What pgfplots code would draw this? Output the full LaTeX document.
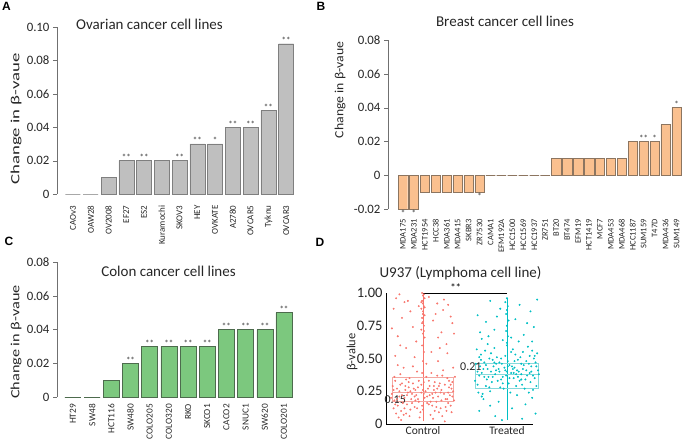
\documentclass[border=0pt]{standalone}
\usepackage{fontspec}
\setmainfont{Carlito}
\newfontfamily\hd{Liberation Sans}
\usepackage{graphicx}
\usepackage{pgfplots}
\usepackage{pgfplotstable}
\pgfplotsset{compat=1.18}
\definecolor{grayfill}{HTML}{BFBFBF}
\definecolor{grayedge}{HTML}{7F7F7F}
\definecolor{orfill}{HTML}{FAC08F}
\definecolor{oredge}{HTML}{8C7560}
\definecolor{grfill}{HTML}{7CC87E}
\definecolor{gredge}{HTML}{4D6B4D}
\definecolor{colCtrl}{HTML}{F8766D}
\definecolor{colTrt}{HTML}{00BFC4}
\definecolor{colCtrlBox}{HTML}{F3A9A3}
\definecolor{colTrtBox}{HTML}{86D9DB}
\definecolor{axgray}{HTML}{707070}

\pgfplotstableread{
dx y
-0.35 0.12
-0.28 0.21
-0.20 0.08
-0.12 0.31
-0.05 0.17
0.03 0.25
0.11 0.14
0.19 0.29
0.27 0.19
0.34 0.09
-0.31 0.27
-0.24 0.16
-0.16 0.35
-0.08 0.22
0.00 0.11
0.07 0.33
0.15 0.24
0.23 0.06
0.31 0.28
0.37 0.18
-0.37 0.23
-0.29 0.05
-0.21 0.26
-0.14 0.19
-0.06 0.28
0.02 0.20
0.09 0.07
0.17 0.37
0.25 0.23
0.33 0.14
-0.33 0.33
-0.26 0.10
-0.18 0.24
-0.10 0.13
-0.02 0.30
0.05 0.16
0.13 0.26
0.21 0.12
0.29 0.35
0.36 0.25
-0.34 0.18
-0.27 0.38
-0.19 0.15
-0.11 0.27
-0.03 0.09
0.04 0.36
0.12 0.20
0.20 0.31
0.28 0.10
0.35 0.32
-0.36 0.29
-0.30 0.14
-0.22 0.20
-0.15 0.11
-0.07 0.40
0.01 0.23
0.08 0.29
0.16 0.17
0.24 0.41
0.32 0.22
-0.32 0.08
-0.25 0.31
-0.17 0.28
-0.09 0.18
-0.01 0.14
0.06 0.27
0.14 0.10
0.22 0.26
0.30 0.16
0.38 0.36
-0.38 0.20
-0.23 0.43
-0.13 0.23
-0.04 0.05
0.10 0.39
0.18 0.21
0.26 0.30
-0.28 0.25
-0.20 0.34
0.00 0.26
0.14 0.32
0.30 0.24
-0.10 0.21
0.22 0.18
-0.34 0.36
0.34 0.27
-0.06 0.19
0.08 0.22
-0.16 0.06
0.12 0.04
-0.26 0.03
0.26 0.02
-0.12 0.44
0.04 0.46
0.18 0.48
-0.30 0.45
0.36 0.43
-0.22 0.12
0.16 0.13
-0.02 0.24
-0.33 0.52
-0.20 0.58
0.10 0.55
0.28 0.61
-0.30 0.67
0.22 0.70
-0.12 0.74
0.35 0.77
-0.25 0.81
0.15 0.84
-0.35 0.88
0.30 0.91
-0.18 0.94
0.07 0.97
-0.28 0.99
0.25 0.95
-0.08 0.63
0.18 0.66
-0.37 0.73
0.33 0.82
-0.15 0.86
0.20 0.58
-0.27 0.60
0.12 0.79
-0.22 0.93
0.29 0.54
-0.05 0.90
0.37 0.69
-0.32 0.96
0.17 0.92
-0.10 0.51
0.24 0.87
0.00 0.48
0.01 0.55
-0.01 0.60
0.02 0.66
0.00 0.69
-0.02 0.72
0.01 0.75
0.00 0.78
-0.01 0.81
0.02 0.83
0.00 0.86
-0.02 0.88
0.01 0.90
0.00 0.92
-0.01 0.94
0.02 0.96
0.00 0.98
-0.01 1.00
0.01 0.71
-0.01 0.77
0.00 0.84
0.02 0.89
-0.02 0.93
0.01 0.99
-0.09 0.26
0.19 0.09
-0.31 0.19
0.27 0.13
-0.17 0.32
0.09 0.17
-0.23 0.07
0.31 0.33
-0.01 0.39
0.23 0.37
-0.35 0.26
0.13 0.29
-0.07 0.12
0.05 0.21
-0.27 0.30
0.35 0.21
-0.13 0.16
0.21 0.24
-0.19 0.22
0.01 0.32
-0.33 0.15
0.29 0.19
-0.15 0.25
0.11 0.23
-0.25 0.22
0.07 0.15
-0.05 0.33
0.33 0.30
-0.21 0.29
0.17 0.27
}\ctrlpts

\pgfplotstableread{
dx y
-0.35 0.30
-0.28 0.42
-0.20 0.25
-0.12 0.51
-0.05 0.36
0.03 0.45
0.11 0.29
0.19 0.55
0.27 0.39
0.34 0.47
-0.31 0.53
-0.24 0.34
-0.16 0.44
-0.08 0.28
0.00 0.40
0.07 0.57
0.15 0.33
0.23 0.48
0.31 0.26
0.37 0.41
-0.37 0.46
-0.29 0.23
-0.21 0.50
-0.14 0.38
-0.06 0.46
0.02 0.31
0.09 0.43
0.17 0.38
0.25 0.59
0.33 0.35
-0.33 0.37
-0.26 0.56
-0.18 0.32
-0.10 0.42
-0.02 0.52
0.05 0.39
0.13 0.49
0.21 0.27
0.29 0.44
0.36 0.54
-0.34 0.24
-0.27 0.47
-0.19 0.40
-0.11 0.33
-0.03 0.43
0.04 0.24
0.12 0.41
0.20 0.45
0.28 0.32
0.35 0.29
-0.36 0.57
-0.30 0.39
-0.22 0.36
-0.15 0.58
-0.07 0.34
0.01 0.48
0.08 0.35
0.16 0.51
0.24 0.37
0.32 0.50
-0.32 0.44
-0.25 0.29
-0.17 0.49
-0.09 0.40
-0.01 0.37
0.06 0.44
0.14 0.40
0.22 0.34
0.30 0.56
0.38 0.38
-0.23 0.61
-0.13 0.46
-0.04 0.27
0.10 0.53
0.18 0.30
0.26 0.46
-0.38 0.33
0.00 0.60
0.14 0.63
-0.28 0.19
0.30 0.20
-0.10 0.17
0.22 0.15
-0.20 0.14
0.06 0.12
-0.33 0.10
0.34 0.08
-0.14 0.06
0.18 0.04
-0.06 0.03
0.12 0.22
-0.30 0.21
0.26 0.24
-0.02 0.41
0.08 0.39
-0.30 0.65
0.20 0.68
-0.15 0.72
0.32 0.74
-0.25 0.78
0.10 0.80
-0.35 0.83
0.28 0.86
-0.08 0.88
0.15 0.91
-0.20 0.94
0.36 0.95
-0.32 0.70
0.05 0.66
0.24 0.77
-0.12 0.82
-0.05 0.64
0.30 0.63
-0.22 0.67
0.00 0.62
0.01 0.67
-0.01 0.71
0.00 0.75
0.02 0.79
-0.01 0.84
0.00 0.87
0.01 0.90
-0.02 0.93
0.00 0.96
-0.09 0.47
0.19 0.42
-0.31 0.49
0.27 0.52
-0.17 0.36
0.09 0.48
-0.23 0.42
0.31 0.37
0.03 0.35
0.23 0.41
-0.35 0.40
0.13 0.36
-0.07 0.50
0.05 0.55
-0.27 0.36
0.35 0.44
-0.13 0.41
0.17 0.46
-0.19 0.54
0.01 0.44
-0.33 0.51
0.29 0.40
-0.15 0.47
0.11 0.38
-0.25 0.45
0.07 0.42
-0.05 0.31
0.33 0.52
-0.21 0.28
0.17 0.34
}\trtpts

\pgfplotsset{
  barax/.style={
    scale only axis, anchor=south west, clip=false,
    axis y line*=left, axis x line*=bottom,
    axis line style={-},
    x axis line style={draw=none},
    y axis line style={axgray},
    scaled y ticks=false,
    tick align=outside,
    major tick length=4pt,
    ytick style={axgray},
    xtick style={draw=none},
    yticklabel={\pgfmathprintnumber[fixed,fixed zerofill,precision=2,assume math mode=true]{\tick}},
    extra y ticks={0}, extra y tick labels={0},
    extra y tick style={yticklabel style={font=\fontsize{12.8}{14}\selectfont, text=black!85}},
    yticklabel style={font=\fontsize{12.8}{14}\selectfont, text=black!85},
    xticklabel style={rotate=90, anchor=east, text=black!85},
  },
  stars/.style={draw=none, mark=none, nodes near coords, point meta=explicit symbolic,
    every node near coord/.append style={font=\fontsize{9}{9}\selectfont, inner sep=0pt, anchor=south, text=black!80}},
}

\begin{document}
\begin{tikzpicture}
\path[use as bounding box] (0pt,0pt) rectangle (684pt,-440pt);

% ---------- A ----------
\begin{axis}[barax, at={(57pt,-194pt)}, width=238pt, height=167pt,
  xmin=-0.9, xmax=12.5, ymin=0, ymax=0.10,
  ytick={0.02,0.04,0.06,0.08,0.1},
  xtick={0,...,12},
  xticklabels={CAOv3,OAW28,OV2008,EF27,ES2,Kuramochi,SKOV3,HEY,OVKATE,A2780,OVCAR5,Tyknu,OVCAR3},
  xticklabel style={font=\fontsize{9}{10}\selectfont, xshift=-4pt}]
\addplot[ybar, bar width=15pt, fill=grayfill, draw=grayedge] coordinates {
(0,0) (1,0) (2,0.01) (3,0.02) (4,0.02) (5,0.02) (6,0.02) (7,0.03) (8,0.03) (9,0.04) (10,0.04) (11,0.05) (12,0.09)};
\addplot[stars] coordinates {
(3,0.02)[**] (4,0.02)[**] (6,0.02)[**] (7,0.03)[**] (8,0.03)[*] (9,0.04)[**] (10,0.04)[**] (11,0.05)[**] (12,0.09)[**]};
\end{axis}

% ---------- B ----------
\begin{axis}[barax, at={(388pt,-209pt)}, width=294pt, height=169pt,
  xmin=-1.37, xmax=25.5, ymin=-0.02, ymax=0.08,
  ytick={-0.02,0.02,0.04,0.06,0.08},
  xtick={0,...,25},
  xticklabels={MDA175,MDA231,HCT1954,HCC38,MDA361,MDA415,SKBR3,ZR7530,CAMA1,EFM192A,HCC1500,HCC1569,HCC1937,ZR751,BT20,BT474,EFM19,HCT1419,MCF7,MDA453,MDA468,HCC1187,SUM159,T47D,MDA436,SUM149},
  xticklabel style={font=\fontsize{8.5}{9.5}\selectfont, inner sep=1pt, xshift=-5pt}]
\addplot[ybar, bar width=9.5pt, fill=orfill, draw=oredge] coordinates {
(0,-0.02) (1,-0.02) (2,-0.01) (3,-0.01) (4,-0.01) (5,-0.01) (6,-0.01) (7,-0.01)
(8,0) (9,0) (10,0) (11,0) (12,0) (13,0)
(14,0.01) (15,0.01) (16,0.01) (17,0.01) (18,0.01) (19,0.01) (20,0.01)
(21,0.02) (22,0.02) (23,0.02) (24,0.03) (25,0.04)};
\addplot[stars] coordinates {(22,0.02)[**] (23,0.02)[*] (25,0.04)[*]};
\addplot[stars, every node near coord/.append style={anchor=north, yshift=-1pt}] coordinates {(0,-0.02)[*] (1,-0.02)[*] (7,-0.01)[*]};
\end{axis}

% ---------- C ----------
\begin{axis}[barax, at={(57pt,-397pt)}, width=236pt, height=135pt,
  xmin=-0.83, xmax=11.47, ymin=0, ymax=0.08,
  ytick={0.02,0.04,0.06,0.08},
  xtick={0,...,11},
  xticklabels={HT29,SW48,HCT116,SW480,COLO205,COLO320,RKO,SKCO1,CACO2,SNUC1,SW620,COLO201},
  xticklabel style={font=\fontsize{9.3}{10}\selectfont, inner sep=1pt, xshift=-2pt}]
\addplot[ybar, bar width=16pt, fill=grfill, draw=gredge] coordinates {
(0,0) (1,0) (2,0.01) (3,0.02) (4,0.03) (5,0.03) (6,0.03) (7,0.03) (8,0.04) (9,0.04) (10,0.04) (11,0.05)};
\addplot[stars] coordinates {
(3,0.02)[**] (4,0.03)[**] (5,0.03)[**] (6,0.03)[**] (7,0.03)[**] (8,0.04)[**] (9,0.04)[**] (10,0.04)[**] (11,0.05)[**]};
\end{axis}

% ---------- D ----------
\begin{axis}[scale only axis, anchor=south west, clip=false,
  at={(386pt,-424pt)}, width=147pt, height=131pt,
  xmin=0.56, xmax=2.31, ymin=0, ymax=1.0,
  axis x line*=bottom, axis y line*=left, axis line style={-, black},
  tick style={draw=none},
  xtick={1,2}, xticklabels={Control,Treated},
  xticklabel style={font=\fontsize{11.5}{13}\selectfont, text=black!85, yshift=1pt},
  ytick={0,0.25,0.5,0.75,1}, yticklabels={0,0.25,0.50,0.75,1.00},
  yticklabel style={font=\fontsize{14.5}{16}\selectfont, text=black!85}]
\addplot[color=colCtrl, only marks, mark=*, mark size=0.75pt, mark options={draw=none, fill=colCtrl}]
  table[x expr=1+\thisrow{dx}, y=y] {\ctrlpts};
\addplot[color=colTrt, only marks, mark=*, mark size=0.75pt, mark options={draw=none, fill=colTrt}]
  table[x expr=2+\thisrow{dx}, y=y] {\trtpts};
\addplot[color=colCtrl, line width=0.7pt, mark=none] coordinates {(1,0.02) (1,1.0)};
\addplot[color=colTrt, line width=0.6pt, mark=none] coordinates {(2,0.03) (2,0.96)};
\addplot[color=colCtrlBox, line width=0.8pt, mark=none] coordinates {(0.635,0.17) (1.365,0.17) (1.365,0.356) (0.635,0.356) (0.635,0.17)};
\addplot[color=colCtrlBox, line width=0.8pt, mark=none] coordinates {(0.635,0.242) (1.365,0.242)};
\addplot[color=colTrtBox, line width=0.8pt, mark=none] coordinates {(1.63,0.27) (2.37,0.27) (2.37,0.463) (1.63,0.463) (1.63,0.27)};
\addplot[color=colTrtBox, line width=0.8pt, mark=none] coordinates {(1.63,0.38) (2.37,0.38)};
\addplot[color=black, line width=0.5pt, mark=none] coordinates {(1,1.0) (2,1.0)};
\node[font=\fontsize{11}{11}\selectfont, anchor=south, inner sep=1pt] at (axis cs:1.39,1.0) {**};
\node[font=\fontsize{12}{14}\selectfont, text=black!85, inner sep=0pt] at (axis cs:0.67,0.183) {0.15};
\node[font=\fontsize{12}{14}\selectfont, text=black!85, inner sep=0pt] at (axis cs:1.57,0.435) {0.21};
\end{axis}

% ---------- titles and labels ----------
\node[font=\fontsize{15}{18}\selectfont, text=black!85] at (149.5pt,-24.5pt) {Ovarian cancer cell lines};
\node[font=\fontsize{15}{18}\selectfont, text=black!85] at (505pt,-21.5pt) {Breast cancer cell lines};
\node[font=\fontsize{15}{18}\selectfont, text=black!85] at (168.5pt,-271pt) {Colon cancer cell lines};
\node[font=\fontsize{15}{18}\selectfont, text=black!85] at (460.5pt,-273pt) {U937 (Lymphoma cell line)};

\node[rotate=90, font=\fontsize{12.5}{15}\selectfont, text=black!85] at (16pt,-119pt) {\scalebox{1.5}[1]{Change in β-vaue}};
\node[rotate=90, font=\fontsize{12.5}{15}\selectfont, text=black!85] at (340pt,-90pt) {\scalebox{1.1}[1]{Change in β-vaue}};
\node[rotate=90, font=\fontsize{12.5}{15}\selectfont, text=black!85] at (16pt,-342pt) {\scalebox{1.3}[1]{Change in β-vaue}};
\node[rotate=90, font=\fontsize{12.5}{15}\selectfont, text=black!85] at (352pt,-352pt) {β-value};

\node[font=\hd\bfseries\fontsize{12}{12}\selectfont] at (6.5pt,-6.5pt) {A};
\node[font=\hd\bfseries\fontsize{12}{12}\selectfont] at (321pt,-6.5pt) {B};
\node[font=\hd\bfseries\fontsize{12}{12}\selectfont] at (9pt,-241pt) {C};
\node[font=\hd\bfseries\fontsize{12}{12}\selectfont] at (320pt,-242pt) {D};
\end{tikzpicture}
\end{document}
